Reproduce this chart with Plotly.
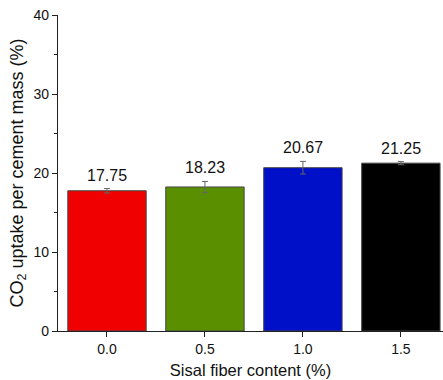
import plotly.graph_objects as go

categories = ["0.0", "0.5", "1.0", "1.5"]
values = [17.75, 18.23, 20.67, 21.25]
errors = [0.28, 0.7, 0.8, 0.2]
labels = ["17.75", "18.23", "20.67", "21.25"]
colors = ["#f00000", "#5a9000", "#0010c8", "#000000"]

fig = go.Figure()
fig.add_trace(go.Bar(
    x=categories, y=values, width=0.8,
    marker=dict(color=colors, line=dict(color="#444444", width=1)),
    error_y=dict(type="data", array=errors, color="#666666", thickness=1, width=3),
    showlegend=False, hoverinfo="skip",
))
for i, (v, e, t) in enumerate(zip(values, errors, labels)):
    fig.add_annotation(
        x=i, y=v + e, text=t, showarrow=False, yanchor="bottom", yshift=3,
        font=dict(size=16, color="#111111", family="Liberation Sans, Arial"),
    )

fig.update_layout(
    width=443, height=380,
    margin=dict(l=58, r=0, t=15, b=49, autoexpand=False),
    plot_bgcolor="white", paper_bgcolor="white",
    font=dict(family="Liberation Sans, Arial", size=14, color="#111111"),
    bargap=0.2,
)
fig.update_xaxes(
    type="category", range=[-0.5, 3.43],
    showline=True, linecolor="#222222", linewidth=1.2,
    ticks="outside", ticklen=5, tickcolor="#222222",
    showgrid=False, zeroline=False, automargin=False,
    title=dict(text="Sisal fiber content (%)", font=dict(size=16.5), standoff=8),
)
fig.update_yaxes(
    range=[0, 40], dtick=10,
    showline=True, linecolor="#222222", linewidth=1.2,
    ticks="outside", ticklen=5, tickcolor="#222222",
    minor=dict(ticks="outside", dtick=5, ticklen=3, tickcolor="#222222"),
    showgrid=False, zeroline=False, automargin=False,
    title=dict(text="CO<sub>2</sub> uptake per cement mass (%)", font=dict(size=18), standoff=5),
)

fig.write_html(
    "out.html",
    config={"displayModeBar": False},
    post_script="document.body.style.margin='0';document.body.style.overflow='hidden';",
)
